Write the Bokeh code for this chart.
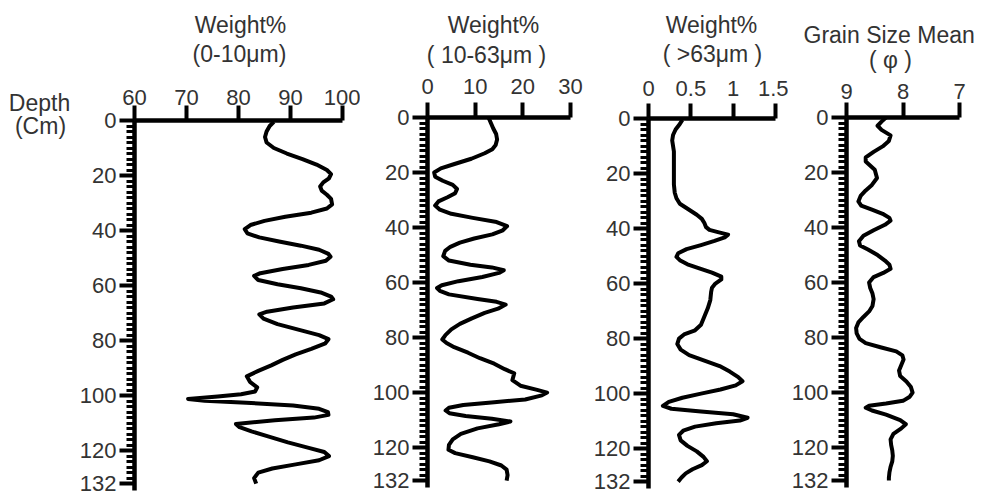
from bokeh.plotting import figure
from bokeh.layouts import row, column
from bokeh.models import Range1d, FixedTicker
from bokeh.core.properties import value
from bokeh.embed import file_html
from bokeh.resources import INLINE

# ---------------- data ----------------
depth_ticks = [0, 20, 40, 60, 80, 100, 120, 132]
depth_minor = list(range(0, 133, 2))

# Panel 1: Weight% (0-10 um)
d1 = [0.5, 2, 4, 6, 8, 10, 12, 14, 16, 18, 19.5, 21, 22.5, 24, 25.5, 27, 28.5, 30.5,
      32, 33.5, 35, 36.5, 38, 39.5, 41, 42.5, 44, 45.5, 47, 48.5, 49.5, 51, 52.5, 54,
      55.5, 56.5, 58, 59.5, 61, 62.5, 64, 65, 66.5, 68, 69.5, 70.5, 72, 74, 76, 78,
      79.5, 81, 83, 85, 87, 89, 91, 93, 95, 97, 98.5, 99.5, 100.3, 101.2, 101.9,
      102.6, 103.6, 104.8, 106, 107, 108, 109, 110.3, 111.5, 113, 115, 117, 119,
      120.5, 122, 123.5, 125, 126.5, 128, 130, 132]
v1 = [86.8, 86.0, 85.4, 85.1, 85.4, 86.8, 89.3, 92.3, 95.0, 97.0, 97.8, 97.4, 96.3, 95.7,
      96.0, 97.0, 97.8, 98.0, 97.0, 94.0, 89.0, 85.0, 82.3, 81.2, 81.7, 84.0, 87.8,
      92.0, 95.5, 97.3, 97.7, 96.8, 93.5, 88.5, 84.2, 83.0, 83.8, 87.5, 92.0, 95.8,
      97.8, 98.2, 96.5, 90.5, 85.5, 84.0, 84.8, 87.5, 91.5, 95.5, 97.3, 96.7, 94.0,
      91.0, 88.5, 86.3, 83.8, 81.6, 82.2, 83.6, 83.2, 80.5, 76.0, 70.3, 73.5, 81.5,
      90.5, 95.5, 97.2, 97.3, 94.5, 87.0, 79.5, 80.2, 82.5, 86.0, 89.5, 93.5, 96.5,
      97.4, 95.5, 91.0, 86.5, 83.8, 83.0, 83.4]

# Panel 2: Weight% (10-63 um)
d2 = [0, 2, 4, 6, 8, 10, 11.5, 13, 15, 17, 18.5, 20, 21.5, 23, 24.5, 26, 27.5, 29,
      30.5, 32, 33.5, 35, 36.5, 38, 39.5, 41, 42.5, 44, 45.5, 47, 48.5, 50.4, 52,
      53.5, 54.5, 55.5, 56.5, 58, 59.5, 61, 62, 63, 64.3, 66, 67, 68, 69.5, 71, 73,
      75, 77, 79, 80.7, 82, 83.5, 85.5, 87.5, 89.5, 91.5, 93, 95.5, 97.5, 99, 100,
      101, 102.5, 103.5, 104.5, 105.5, 106.5, 107.5, 108.5, 109.5, 110.5, 111.5,
      113, 115, 117, 119, 120.8, 122, 123.5, 125, 126.5, 128, 130, 132]
v2 = [12.8, 13.3, 13.8, 14.4, 14.6, 14.3, 13.6, 12.0, 9.2, 5.5, 2.8, 1.4, 1.6, 3.2, 5.3,
      6.2, 5.8, 4.2, 2.3, 1.6, 2.6, 5.0, 9.5, 14.5, 16.7, 15.8, 13.6, 9.8, 6.8, 4.8,
      3.7, 3.3, 4.5, 9.0, 13.5, 16.0, 15.0, 11.5, 6.5, 3.0, 2.0, 2.6, 4.5, 10.5, 14.5,
      16.4, 14.8, 12.0, 9.3, 6.8, 5.0, 3.8, 3.1, 4.0, 5.6, 8.5, 11.0, 14.0, 16.2,
      18.2, 17.8, 19.5, 23.0, 25.1, 24.0, 20.5, 14.0, 7.5, 4.5, 3.8, 4.6, 8.0, 13.5,
      17.4, 15.0, 10.5, 7.0, 5.3, 4.5, 4.4, 5.8, 9.5, 13.0, 15.5, 16.6, 16.8, 16.6]

# Panel 3: Weight% (>63 um)
d3 = [0.5, 2, 4, 6, 8, 10, 12, 15, 18, 21, 24, 27, 29, 31, 33, 35, 36.5, 38, 39.5,
      40.5, 41.3, 42.2, 43.2, 44.5, 46, 47.5, 49, 50.3, 51.5, 53, 54.5, 56, 57.5,
      58.5, 60, 61.5, 63, 66, 69, 72, 75, 77, 78.5, 80, 82, 84, 86, 88, 90, 92, 94,
      95.5, 97, 98.5, 100, 101.5, 103, 104.5, 105.5, 106.5, 107.5, 108.8, 109.8,
      110.8, 112, 113.5, 115, 117, 119, 121, 123, 124.6, 126, 127.5, 129, 130.5, 132]
v3 = [0.40, 0.37, 0.32, 0.29, 0.28, 0.29, 0.30, 0.30, 0.30, 0.30, 0.30, 0.31, 0.33,
      0.37, 0.47, 0.57, 0.63, 0.66, 0.68, 0.72, 0.82, 0.94, 0.90, 0.78, 0.62, 0.45,
      0.35, 0.33, 0.37, 0.46, 0.60, 0.75, 0.86, 0.86, 0.79, 0.75, 0.74, 0.73, 0.70,
      0.66, 0.62, 0.55, 0.42, 0.36, 0.34, 0.38, 0.48, 0.66, 0.84, 0.96, 1.06, 1.11,
      1.03, 0.85, 0.62, 0.40, 0.24, 0.17, 0.27, 0.62, 1.00, 1.17, 1.08, 0.80, 0.55,
      0.41, 0.36, 0.38, 0.46, 0.57, 0.65, 0.69, 0.63, 0.52, 0.44, 0.39, 0.35]

# Panel 4: Grain size mean (phi)
d4 = [0, 1.5, 3, 4.5, 6.5, 8.5, 10.5, 12.5, 14.5, 16, 19, 22, 24.5, 26.5, 28.5, 30.5,
      32, 33.5, 35, 36.5, 37.5, 39, 41, 43, 45, 46.5, 48, 50, 52, 53.5, 55, 56.5, 58,
      60, 62, 64, 66, 68.5, 70.5, 72.5, 74.5, 76.5, 78.5, 80.5, 82, 83.5, 85, 86.5,
      88, 90, 92, 94, 96, 98, 100, 101.5, 103, 104, 104.8, 105.5, 106.5, 108, 110,
      111.5, 113, 115, 117, 119, 121, 123, 125, 127, 129, 131, 132]
v4 = [8.30, 8.38, 8.45, 8.38, 8.22, 8.25, 8.36, 8.52, 8.66, 8.66, 8.50, 8.46, 8.55,
      8.66, 8.75, 8.79, 8.74, 8.55, 8.36, 8.24, 8.22, 8.32, 8.52, 8.70, 8.78, 8.76,
      8.62, 8.45, 8.32, 8.24, 8.22, 8.35, 8.52, 8.60, 8.58, 8.54, 8.52, 8.54, 8.60,
      8.70, 8.79, 8.83, 8.82, 8.77, 8.66, 8.40, 8.12, 8.01, 7.99, 8.03, 8.07, 8.05,
      7.94, 7.86, 7.83, 7.88, 8.00, 8.30, 8.60, 8.66, 8.55, 8.30, 8.05, 7.95, 8.03,
      8.17, 8.22, 8.21, 8.19, 8.18, 8.19, 8.22, 8.24, 8.25, 8.25]

ticks1 = [60, 70, 80, 90, 100]
ticks2 = [0, 10, 20, 30]
ticks3 = [0, 0.5, 1, 1.5]
labels3 = {0: "0", 0.5: "0.5", 1: "1", 1.5: "1.5"}
ticks4 = [9, 8, 7]

title_lines = [
    ["Weight%", "(0-10μm)"],
    ["Weight%", "( 10-63μm )"],
    ["Weight%", "( >63μm )"],
    ["Grain Size Mean", "( φ )"],
]
depth_title = ["Depth", "(Cm)"]

# ---------------- styling ----------------
FONT = "Liberation Sans"
TXT = "#333333"
FS = "22px"
FS_T = "23px"
FRAME_H = 370
HEAD_H = 74
H = 499


def blank(x0, x1, y0, y1):
    f = figure(frame_width=int(x1 - x0), frame_height=int(y1 - y0),
               x_range=Range1d(x0, x1), y_range=Range1d(y1, y0),
               x_axis_type=None, y_axis_type=None,
               toolbar_location=None, output_backend="svg",
               min_border=0, min_border_left=0, min_border_right=0,
               min_border_top=0, min_border_bottom=0)
    f.outline_line_color = None
    f.background_fill_color = "white"
    f.border_fill_color = "white"
    return f


def words(f, xs, ys, texts, align="center"):
    f.text(x=xs, y=ys, text=texts, text_align=align,
           text_baseline="alphabetic", text_font=value(FONT),
           text_font_size=value(FS_T), text_color=TXT)


def panel(xr, xticks, fw, left, right, top, depth, vals, overrides=None, xstand=1):
    p = figure(frame_width=fw, frame_height=FRAME_H, x_range=xr,
               y_range=Range1d(134.5, 0), x_axis_location="above",
               toolbar_location=None, output_backend="svg",
               min_border_left=left, min_border_right=right,
               min_border_top=top - HEAD_H, min_border_bottom=H - top - FRAME_H)
    p.xgrid.visible = False
    p.ygrid.visible = False
    p.outline_line_color = None
    p.background_fill_color = "white"
    p.border_fill_color = "white"

    ya = p.yaxis[0]
    ya.ticker = FixedTicker(ticks=depth_ticks, minor_ticks=depth_minor)
    ya.axis_line_width = 4.5
    ya.axis_line_color = "black"
    ya.major_tick_line_width = 4
    ya.minor_tick_line_width = 3
    ya.major_tick_out = 15
    ya.major_tick_in = 0
    ya.minor_tick_out = 8
    ya.minor_tick_in = 0
    ya.major_label_standoff = 3

    xa = p.xaxis[0]
    xa.ticker = FixedTicker(ticks=xticks)
    xa.axis_line_width = 4.5
    xa.axis_line_color = "black"
    xa.major_tick_line_width = 4
    xa.major_tick_out = 15
    xa.major_tick_in = 0
    xa.minor_tick_line_color = None
    xa.major_label_standoff = xstand
    if overrides:
        xa.major_label_overrides = overrides

    for ax in (xa, ya):
        ax.major_label_text_font = FONT
        ax.major_label_text_font_size = FS
        ax.major_label_text_color = TXT

    p.line(vals, depth, line_width=4, line_color="black", line_join="round")
    return p


# depth caption column (canvas x 0-76)
f0 = blank(0, 76, 0, H)
words(f0, [39, 40], [102, 125], depth_title)

# panel 1 (canvas x 76-360)
h1 = blank(76, 360, 0, HEAD_H)
words(h1, [240, 239], [24, 53], title_lines[0])
p1 = panel(Range1d(60, 100), ticks1, 208, 58, 18, 120, d1, v1, xstand=1)

# panel 2 (canvas x 360-586)
h2 = blank(360, 586, 0, HEAD_H)
words(h2, [493, 486], [24, 54], title_lines[1])
p2 = panel(Range1d(0, 30), ticks2, 143, 67, 16, 117, d2, v2, xstand=9)

# panel 3 (canvas x 586-788)
h3 = blank(586, 788, 0, HEAD_H)
words(h3, [711, 712], [24, 53], title_lines[2])
p3 = panel(Range1d(0, 1.5), ticks3, 127, 62, 13, 118, d3, v3, labels3, xstand=8)

# panel 4 (canvas x 788-981)
h4 = blank(788, 981, 0, HEAD_H)
words(h4, [803], [34], title_lines[3][:1], align="left")
words(h4, [890], [59], title_lines[3][1:])
p4 = panel(Range1d(9, 7), ticks4, 113, 56, 24, 117, d4, v4, xstand=4)

layout = row(column(f0),
             column(h1, column(p1)),
             column(h2, column(p2)),
             column(h3, column(p3)),
             column(h4, column(p4)))
open("out.html", "w").write(file_html(layout, INLINE))
